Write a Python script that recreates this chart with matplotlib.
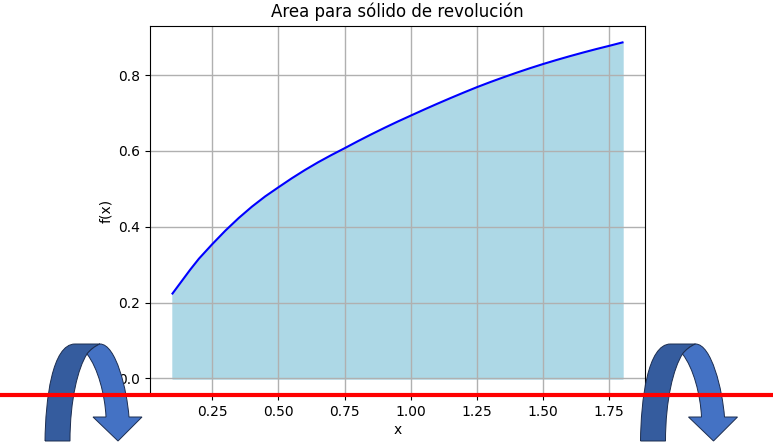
"""
Area para solido de revolucion
"""
import matplotlib
matplotlib.use("Agg")
import matplotlib.pyplot as plt
from matplotlib.patches import PathPatch
from matplotlib.path import Path
from matplotlib.transforms import Affine2D

# curve
x_vals = [0.10, 0.167, 0.20, 0.25, 0.30, 0.35, 0.40, 0.45, 0.50, 0.55, 0.60, 0.65, 0.70, 0.75,
          0.80, 0.85, 0.90, 0.95, 1.00, 1.05, 1.10, 1.15, 1.20, 1.25, 1.30, 1.35, 1.40, 1.45,
          1.50, 1.55, 1.60, 1.65, 1.70, 1.75, 1.80]
y_vals = [0.224, 0.287, 0.316, 0.354, 0.390, 0.423, 0.453, 0.480, 0.504, 0.5275, 0.5495, 0.570, 0.589, 0.607,
          0.6255, 0.6433, 0.6605, 0.6771, 0.693, 0.7088, 0.7242, 0.7392, 0.7538, 0.768, 0.7813, 0.794, 0.8062, 0.8179,
          0.829, 0.8395, 0.8495, 0.8591, 0.8683, 0.877, 0.886]

W, H = 776, 442
fig = plt.figure(figsize=(W / 100, H / 100), dpi=100)
ax = fig.add_axes([150 / W, 1 - 395.3 / H, 495 / W, 369.7 / H])

ax.fill_between(x_vals, y_vals, color="lightblue")
ax.plot(x_vals, y_vals, color="blue")
ax.set_title("Area para sólido de revolución", pad=6.5)
ax.set_xlabel("x", labelpad=3)
ax.set_ylabel("f(x)")
ax.grid(True, linewidth=1.0)

# curved arrows, in pixels from the top left of the figure
to_fig = Affine2D().scale(1, -1).translate(0, H)

def curved_arrow(dx):
    dark = Path(
        [(45, 441), (45.5, 400), (52, 344), (75, 344), (100, 344), (95, 346), (90, 350), (87, 354),
         (78, 368), (70, 400), (70, 441), (45, 441)],
        [1, 4, 4, 4, 2, 4, 4, 4, 4, 4, 4, 2],
    )
    light = Path(
        [(100, 344), (116, 344), (127, 390), (129, 417), (142, 417), (118, 441), (93, 417),
         (106, 417), (105, 395), (98, 368), (87, 354), (90, 350), (95, 346), (100, 344)],
        [1, 4, 4, 4, 2, 2, 2, 2, 4, 4, 4, 4, 4, 4],
    )
    tr = Affine2D().translate(dx, 0) + to_fig
    for p, c in [(dark, "#355c9e"), (light, "#4472c4")]:
        fig.add_artist(PathPatch(p, facecolor=c, edgecolor="#1c2d4f", linewidth=0.7, transform=tr))

curved_arrow(0)
curved_arrow(595.5)

fig.add_artist(plt.Line2D([0, 773], [395, 395], color="red", linewidth=3,
                          solid_capstyle="butt", transform=to_fig))

fig.savefig("out.png", dpi=100)
